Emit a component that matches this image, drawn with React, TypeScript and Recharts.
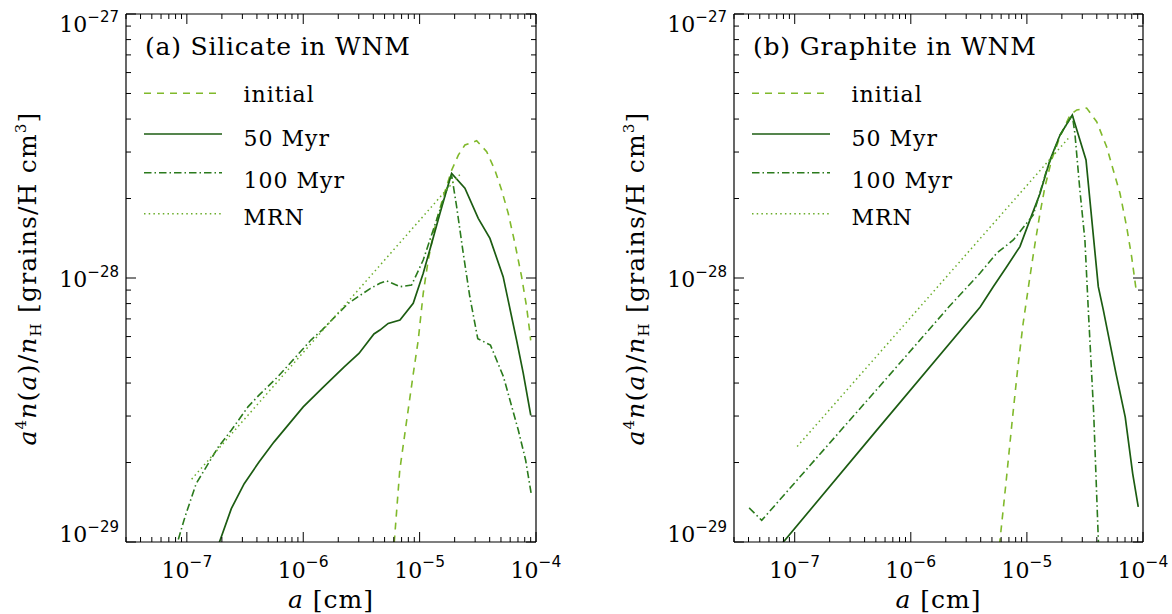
import React from 'react';
import { LineChart, Line, XAxis, YAxis } from 'recharts';

// grain radius a [cm] vs a^4 n(a)/n_H [grains/H cm^3]
const silInitial: [number, number][] = [
  [5.82e-6, 7.94e-30], [6.75e-6, 1.87e-29], [7.82e-6, 2.98e-29], [8.83e-6, 4.35e-29],
  [9.73e-6, 5.82e-29], [1.074e-5, 8.75e-29], [1.186e-5, 1.17e-28], [1.352e-5, 1.563e-28],
  [1.596e-5, 2.03e-28], [1.884e-5, 2.56e-28], [2.15e-5, 2.92e-28], [2.45e-5, 3.19e-28],
  [3.09e-5, 3.31e-28], [3.77e-5, 3.01e-28], [4.44e-5, 2.56e-28], [5.07e-5, 2.15e-28],
  [5.77e-5, 1.758e-28], [6.59e-5, 1.352e-28], [7.52e-5, 1.012e-28], [8.3e-5, 7.78e-29],
  [8.87e-5, 6.17e-29], [9.0e-5, 5.8e-29],
];
const sil50: [number, number][] = [
  [1.738e-7, 8.91e-30], [2.41e-7, 1.337e-29], [3.11e-7, 1.663e-29], [4.17e-7, 2.01e-29],
  [5.6e-7, 2.39e-29], [1.0e-6, 3.25e-29], [1.449e-6, 3.82e-29], [2.25e-6, 4.61e-29],
  [3.01e-6, 5.18e-29], [4.05e-6, 6.14e-29], [4.56e-6, 6.35e-29], [5.37e-6, 6.73e-29],
  [6.78e-6, 6.93e-29], [8.81e-6, 8.02e-29], [1.074e-5, 1.042e-28], [1.268e-5, 1.352e-28],
  [1.496e-5, 1.758e-28], [1.706e-5, 2.15e-28], [1.884e-5, 2.49e-28], [2.45e-5, 2.19e-28],
  [3.19e-5, 1.683e-28], [4.02e-5, 1.413e-28], [5.22e-5, 1.012e-28], [6.81e-5, 5.82e-29],
  [7.76e-5, 4.37e-29], [9.02e-5, 3.02e-29],
];
const sil100: [number, number][] = [
  [7.76e-8, 9.02e-30], [9.64e-8, 1.245e-29], [1.202e-7, 1.663e-29], [1.862e-7, 2.29e-29],
  [2.41e-7, 2.65e-29], [3.35e-7, 3.25e-29], [4.17e-7, 3.6e-29], [6.03e-7, 4.22e-29],
  [8.69e-7, 5.04e-29], [1.164e-6, 5.82e-29], [1.449e-6, 6.35e-29], [2.42e-6, 8.0e-29],
  [3.76e-6, 9.12e-29], [4.56e-6, 9.55e-29], [5.21e-6, 9.75e-29], [6.78e-6, 9.27e-29],
  [8.53e-6, 9.4e-29], [1.074e-5, 1.17e-28], [1.309e-5, 1.521e-28], [1.596e-5, 1.972e-28],
  [1.884e-5, 2.455e-28], [2.08e-5, 1.862e-28], [2.37e-5, 1.242e-28], [2.7e-5, 8.49e-29],
  [3.16e-5, 5.89e-29], [4.06e-5, 5.57e-29], [5.25e-5, 4.23e-29], [7.05e-5, 2.65e-29],
  [8.15e-5, 2.04e-29], [9.1e-5, 1.52e-29],
];
const silMRN: [number, number][] = [[1.1e-7, 1.73e-29], [2.3e-5, 2.51e-28]];

const graInitial: [number, number][] = [
  [5.5e-6, 7.76e-30], [6.64e-6, 1.714e-29], [7.43e-6, 2.81e-29], [8.3e-6, 4.47e-29],
  [9.27e-6, 6.71e-29], [1.062e-5, 1.012e-28], [1.175e-5, 1.352e-28], [1.297e-5, 1.758e-28],
  [1.432e-5, 2.22e-28], [1.633e-5, 2.8e-28], [1.928e-5, 3.43e-28], [2.35e-5, 4.14e-28],
  [2.69e-5, 4.33e-28], [3.27e-5, 4.4e-28], [3.99e-5, 3.91e-28], [4.86e-5, 3.14e-28],
  [5.55e-5, 2.56e-28], [6.34e-5, 2.09e-28], [7.23e-5, 1.563e-28], [7.98e-5, 1.205e-28],
  [8.81e-5, 8.75e-29],
];
const gra50: [number, number][] = [
  [6.31e-8, 8.83e-30], [5.01e-7, 2.63e-29], [3.96e-6, 7.76e-29], [5.13e-6, 9.27e-29],
  [6.7e-6, 1.104e-28], [8.71e-6, 1.315e-28], [1.062e-5, 1.66e-28], [1.297e-5, 2.09e-28],
  [1.581e-5, 2.8e-28], [1.928e-5, 3.48e-28], [2.46e-5, 4.14e-28], [3.23e-5, 2.8e-28],
  [4.12e-5, 9.27e-29], [4.55e-5, 7.57e-29], [5.85e-5, 4.35e-29], [7.03e-5, 2.97e-29],
  [8.15e-5, 1.816e-29], [9.1e-5, 1.358e-29],
];
const gra100: [number, number][] = [
  [4.05e-8, 1.346e-29], [5.2e-8, 1.208e-29], [6.28e-7, 4.2e-29], [2.12e-6, 7.76e-29],
  [3.94e-6, 1.042e-28], [5.5e-6, 1.242e-28], [7.64e-6, 1.393e-28], [1.135e-5, 1.734e-28],
  [1.479e-5, 2.56e-28], [1.928e-5, 3.48e-28], [2.46e-5, 4.14e-28], [2.59e-5, 3.53e-28],
  [2.86e-5, 2.15e-28], [3.16e-5, 1.393e-28], [3.38e-5, 7.57e-29], [3.76e-5, 3.08e-29],
  [4.13e-5, 1.0e-29], [4.22e-5, 7.94e-30],
];
const graMRN: [number, number][] = [[1.05e-7, 2.3e-29], [2.3e-5, 3.4e-28]];

const xMajorTicks = [1e-7, 1e-6, 1e-5, 1e-4];
const xMajorLabels = ['\u22127', '\u22126', '\u22125', '\u22124'];
const yMajorTicks = [1e-29, 1e-28, 1e-27];
const yMajorLabels = ['\u221229', '\u221228', '\u221227'];
const minorSteps = [2, 3, 4, 5, 6, 7, 8, 9];
const legendLabels = ['initial', '50 Myr', '100 Myr', 'MRN'];

const X_MIN = 3e-8;
const X_MAX = 1e-4;
const Y_MIN = 1e-29;
const Y_MAX = 1e-27;

const FONT = '"DejaVu Serif", serif';
const SUP_FONT = '"DejaVu Sans", sans-serif';

const PLOT_TOP = 14;
const PLOT_H = 528;
const CHART_H = 614;

const withMinors = (majors: number[], lo: number, hi: number) => {
  const out: number[] = [];
  majors.forEach((m) => {
    out.push(m);
    minorSteps.forEach((k) => out.push(m * k));
    minorSteps.forEach((k) => out.push((m / 10) * k));
  });
  return Array.from(new Set(out.map((v) => Number(v.toPrecision(6)))))
    .filter((v) => v >= lo * 0.9999 && v <= hi * 1.0001)
    .sort((a, b) => a - b);
};

const xTicks = withMinors(xMajorTicks, X_MIN, X_MAX);
const yTicks = withMinors(yMajorTicks, Y_MIN, Y_MAX);

const majorIndex = (majors: number[], v: number) =>
  majors.findIndex((m) => Math.abs(m - v) / m < 1e-4);

const toPoints = (rows: [number, number][]) => rows.map(([a, v]) => ({ a, v }));

const styles = {
  initial: { stroke: '#80b92b', width: 1.6, dash: '7 6' },
  m50: { stroke: '#1c5c12', width: 1.7, dash: undefined as string | undefined },
  m100: { stroke: '#2a7a1c', width: 1.6, dash: '7.5 3 1.5 3' },
  mrn: { stroke: '#6aad2a', width: 1.5, dash: '1.5 3.2' },
};
const styleList = [styles.initial, styles.m50, styles.m100, styles.mrn];

const BottomTick = (p: any) => {
  const { x, y, payload } = p;
  const i = majorIndex(xMajorTicks, payload.value);
  return (
    <g>
      <line x1={x} x2={x} y1={y} y2={y - (i >= 0 ? 10 : 5)} stroke="#000" strokeWidth={1} />
      {i >= 0 && (
        <text x={x} y={y + 36} textAnchor="middle" fill="#000" fontFamily={FONT} fontSize={22}>
          10
          <tspan dy={-11} fontFamily={SUP_FONT} fontSize={15.5}>{xMajorLabels[i]}</tspan>
        </text>
      )}
    </g>
  );
};

const TopTick = (p: any) => {
  const { x, y, payload } = p;
  const i = majorIndex(xMajorTicks, payload.value);
  return <line x1={x} x2={x} y1={y} y2={y + (i >= 0 ? 10 : 5)} stroke="#000" strokeWidth={1} />;
};

const LeftTick = (p: any) => {
  const { x, y, payload } = p;
  const i = majorIndex(yMajorTicks, payload.value);
  const base = y + 18 * (1 - (y - PLOT_TOP) / PLOT_H);
  return (
    <g>
      <line x1={x} x2={x + (i >= 0 ? 10 : 5)} y1={y} y2={y} stroke="#000" strokeWidth={1} />
      {i >= 0 && (
        <text x={x - 7} y={base} textAnchor="end" fill="#000" fontFamily={FONT} fontSize={22}>
          10
          <tspan dy={-10} fontFamily={SUP_FONT} fontSize={15}>{yMajorLabels[i]}</tspan>
        </text>
      )}
    </g>
  );
};

const RightTick = (p: any) => {
  const { x, y, payload } = p;
  const i = majorIndex(yMajorTicks, payload.value);
  return <line x1={x} x2={x - (i >= 0 ? 10 : 5)} y1={y} y2={y} stroke="#000" strokeWidth={1} />;
};

type PanelProps = {
  left: number;
  width: number;
  marginLeft: number;
  marginRight: number;
  title: string;
  series: [number, number][][];
};

function Panel({ left, width, marginLeft, marginRight, title, series }: PanelProps) {
  const plotRight = width - marginRight;
  const plotCenter = (marginLeft + plotRight) / 2;
  const frame = { stroke: '#000', strokeWidth: 1.2 };
  const legendLineY = [93.3, 134, 172.7, 213.7];
  const legendTextY = [101.7, 145.7, 188.3, 225];
  const yLabX = marginLeft - 90;
  const yLabY = 278.5;
  // axes take 1px each (a zero-size axis is not drawn), so the margins give that pixel back
  const AX = 1;

  return (
    <div style={{ position: 'absolute', left, top: 0, width, height: CHART_H }}>
      <LineChart
        width={width}
        height={CHART_H}
        margin={{
          top: PLOT_TOP - AX,
          right: marginRight - AX,
          bottom: CHART_H - PLOT_TOP - PLOT_H - AX,
          left: marginLeft - AX,
        }}
      >
        <XAxis
          xAxisId="b"
          dataKey="a"
          type="number"
          scale="log"
          domain={[X_MIN, X_MAX]}
          allowDataOverflow
          ticks={xTicks}
          interval={0}
          height={AX}
          tickSize={0}
          tickMargin={0}
          tickLine={false}
          axisLine={frame}
          tick={(p: any) => <BottomTick {...p} />}
        />
        <XAxis
          xAxisId="t"
          orientation="top"
          dataKey="a"
          type="number"
          scale="log"
          domain={[X_MIN, X_MAX]}
          allowDataOverflow
          ticks={xTicks}
          interval={0}
          height={AX}
          tickSize={0}
          tickMargin={0}
          tickLine={false}
          axisLine={frame}
          tick={(p: any) => <TopTick {...p} />}
        />
        <YAxis
          yAxisId="l"
          dataKey="v"
          type="number"
          scale="log"
          domain={[Y_MIN, Y_MAX]}
          allowDataOverflow
          ticks={yTicks}
          interval={0}
          width={AX}
          tickSize={0}
          tickMargin={0}
          tickLine={false}
          axisLine={frame}
          tick={(p: any) => <LeftTick {...p} />}
        />
        <YAxis
          yAxisId="r"
          orientation="right"
          dataKey="v"
          type="number"
          scale="log"
          domain={[Y_MIN, Y_MAX]}
          allowDataOverflow
          ticks={yTicks}
          interval={0}
          width={AX}
          tickSize={0}
          tickMargin={0}
          tickLine={false}
          axisLine={frame}
          tick={(p: any) => <RightTick {...p} />}
        />
        {series.map((rows, i) => (
          <Line
            key={legendLabels[i]}
            xAxisId="b"
            yAxisId="l"
            data={toPoints(rows)}
            dataKey="v"
            type="linear"
            stroke={styleList[i].stroke}
            strokeWidth={styleList[i].width}
            strokeDasharray={styleList[i].dash}
            dot={false}
            activeDot={false}
            isAnimationActive={false}
          />
        ))}
      </LineChart>

      <svg
        width={width}
        height={CHART_H}
        style={{ position: 'absolute', left: 0, top: 0, pointerEvents: 'none' }}
      >
        <text x={marginLeft + 19} y={55} fontFamily={FONT} fontSize={25} letterSpacing={0.8} fill="#000">
          {title}
        </text>
        {legendLabels.map((label, i) => (
          <g key={label}>
            <line
              x1={marginLeft + 18}
              x2={marginLeft + 96}
              y1={legendLineY[i]}
              y2={legendLineY[i]}
              stroke={styleList[i].stroke}
              strokeWidth={styleList[i].width}
              strokeDasharray={styleList[i].dash}
            />
            <text
              x={marginLeft + 117.5}
              y={legendTextY[i]}
              fontFamily={FONT}
              fontSize={22}
              letterSpacing={1}
              fill="#000"
            >
              {label}
            </text>
          </g>
        ))}
        <text
          x={plotCenter}
          y={608}
          textAnchor="middle"
          fontFamily={FONT}
          fontSize={25}
          letterSpacing={1}
          fill="#000"
        >
          <tspan fontStyle="italic">a</tspan> [cm]
        </text>
        <text
          x={yLabX}
          y={yLabY}
          transform={`rotate(-90 ${yLabX} ${yLabY})`}
          textAnchor="middle"
          fontFamily={FONT}
          fontSize={25}
          letterSpacing={1.2}
          fill="#000"
        >
          <tspan fontStyle="italic">a</tspan>
          <tspan dy={-10} fontSize={15}>4</tspan>
          <tspan dy={10} fontStyle="italic">n</tspan>(<tspan fontStyle="italic">a</tspan>)/
          <tspan fontStyle="italic">n</tspan>
          <tspan dy={5} fontSize={15}>H</tspan>
          <tspan dy={-5}> [grains/H cm</tspan>
          <tspan dy={-10} fontSize={15}>3</tspan>
          <tspan dy={10}>]</tspan>
        </text>
      </svg>
    </div>
  );
}

export default function App() {
  return (
    <div style={{ position: 'relative', width: 1172, height: CHART_H, background: '#fff', overflow: 'hidden' }}>
      <style>{'body{margin:0;background:#fff}'}</style>
      <Panel
        left={0}
        width={580}
        marginLeft={126}
        marginRight={44}
        title="(a) Silicate in WNM"
        series={[silInitial, sil50, sil100, silMRN]}
      />
      <Panel
        left={580}
        width={592}
        marginLeft={154}
        marginRight={29}
        title="(b) Graphite in WNM"
        series={[graInitial, gra50, gra100, graMRN]}
      />
    </div>
  );
}
